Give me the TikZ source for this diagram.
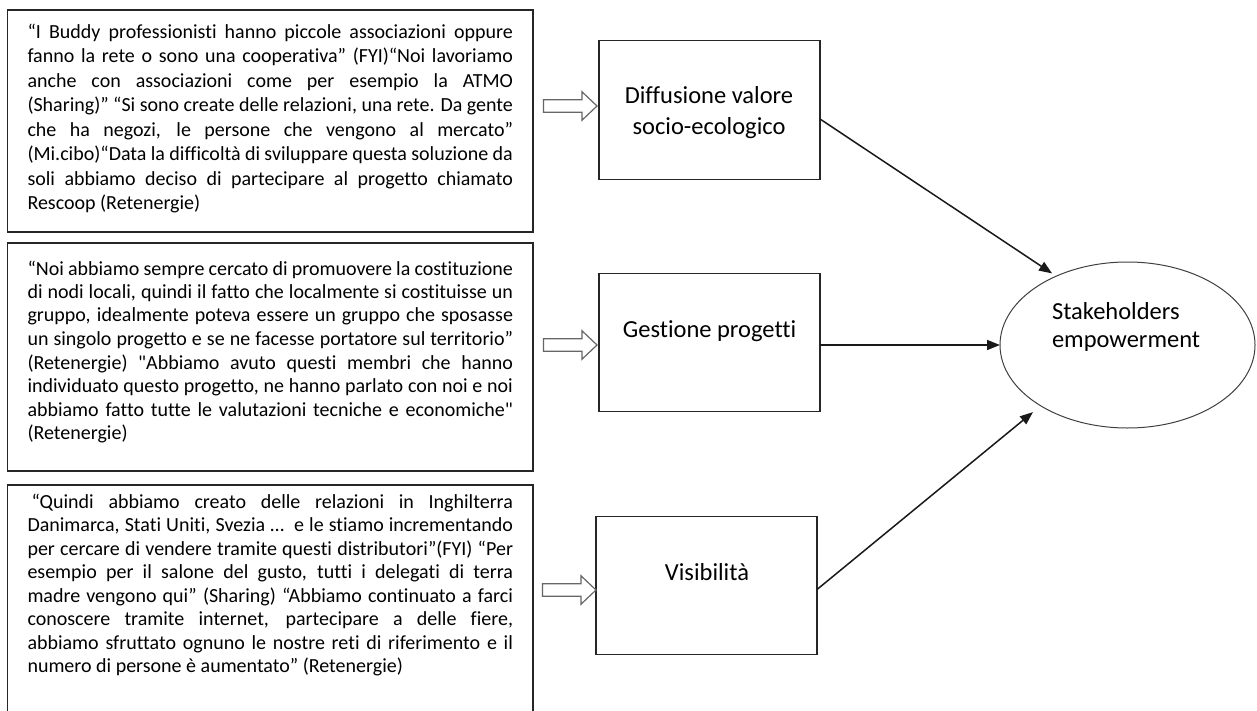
\documentclass[tikz,border=0pt]{standalone}
\usepackage{fontspec}
\setmainfont{Carlito}[Ligatures={TeXOff,CommonOff}]
\usetikzlibrary{arrows.meta,shapes.geometric,calc}

% one justified line of a quotation, and the last (ragged) line
\newcommand\jline[1]{\hbox to 485.5pt{#1}}
\newcommand\lastline[1]{\hbox{#1}}
% a block of quotation lines whose first baseline is the node's base
\newcommand\quoteblock[2]{\vtop{\fontsize{20pt}{#1}\selectfont\baselineskip=#1 #2}}
% two centred lines
\newcommand\twolines[3]{\vtop{\fontsize{24.5pt}{#3}\selectfont\baselineskip=#3\halign{\hfil##\hfil\cr #1\cr #2\cr}}}

\begin{document}
\begin{tikzpicture}[x=1pt,y=-1pt,
  every node/.style={inner sep=0pt,outer sep=0pt},
  quotebox/.style={draw=black!85,line width=1.3pt,rectangle,anchor=north west,minimum width=525.4pt},
  quotetext/.style={anchor=base west,text=black},
  concept/.style={draw=black!85,line width=1.3pt,rectangle,minimum width=221pt,minimum height=138.5pt},
  ctext/.style={anchor=base,text=black,font=\fontsize{24.5pt}{30pt}\selectfont},
  target/.style={draw=black!75,line width=1pt,ellipse,minimum width=255pt,minimum height=166pt},
  conn/.style={draw=black!90,line width=1.5pt,-{Triangle[length=13pt,width=10pt]}},
  blockarrow/.style={draw=black!60,line width=1.2pt,fill=white,line join=miter}]

\useasboundingbox (0,0) rectangle (1257,711);
\clip (0,0) rectangle (1257,711);
\fill[white] (0,0) rectangle (1257,711);

% quotation boxes
\node[quotebox,minimum height=222pt] (q1) at (7.6,10) {};
\node[quotebox,minimum height=228pt] (q2) at (7.6,243) {};
\node[quotebox,minimum height=245pt] (q3) at (7.6,485) {};

\node[quotetext] (q1txt) at (27.5,38.5) {\quoteblock{24.5pt}{%
\jline{“I Buddy professionisti hanno piccole associazioni oppure}
\jline{fanno la rete o sono una cooperativa” (FYI)“Noi lavoriamo}
\jline{anche con associazioni come per esempio la ATMO}
\jline{(Sharing)” “Si sono create delle relazioni, una rete. Da gente}
\jline{che ha negozi, le persone che vengono al mercato”}
\jline{(Mi.cibo)“Data la difficoltà di sviluppare questa soluzione da}
\jline{soli abbiamo deciso di partecipare al progetto chiamato}
\lastline{Rescoop (Retenergie)}}};

\node[quotetext] (q2txt) at (27.5,275) {\quoteblock{23.5pt}{%
\jline{“Noi abbiamo sempre cercato di promuovere la costituzione}
\jline{di nodi locali, quindi il fatto che localmente si costituisse un}
\jline{gruppo, idealmente poteva essere un gruppo che sposasse}
\jline{un singolo progetto e se ne facesse portatore sul territorio”}
\jline{(Retenergie) "Abbiamo avuto questi membri che hanno}
\jline{individuato questo progetto, ne hanno parlato con noi e noi}
\jline{abbiamo fatto tutte le valutazioni tecniche e economiche"}
\lastline{(Retenergie)}}};

\node[quotetext] (q3txt) at (27.5,508) {\quoteblock{23.5pt}{%
\jline{\hspace{4pt}“Quindi abbiamo creato delle relazioni in Inghilterra}
\jline{Danimarca, Stati Uniti, Svezia …\ \ e le stiamo incrementando}
\jline{per cercare di vendere tramite questi distributori”(FYI) “Per}
\jline{esempio per il salone del gusto, tutti i delegati di terra}
\jline{madre vengono qui” (Sharing) “Abbiamo continuato a farci}
\jline{conoscere tramite internet, partecipare a delle fiere,}
\jline{abbiamo sfruttato ognuno le nostre reti di riferimento e il}
\lastline{numero di persone è aumentato” (Retenergie)}}};

% concept boxes
\node[concept] (d1) at (709.5,110) {};
\node[concept] (d2) at (709.5,342.5) {};
\node[concept] (d3) at (706.5,585.5) {};

\node[anchor=base,text=black] (d1txt) at (709,103.5) {\twolines{Diffusione valore}{socio-ecologico}{31pt}};
\node[ctext] (d2txt) at (709.5,337) {Gestione progetti};
\node[ctext] (d3txt) at (707,580.5) {Visibilità};

% outcome
\node[target] (st) at (1127.5,345) {};
\node[anchor=base west,text=black] (sttxt) at (1052,319) {\vtop{\fontsize{24.5pt}{28pt}\selectfont\baselineskip=28pt\hbox{Stakeholders}\hbox{empowerment}}};

% block arrows from the quotations to the concepts
\coordinate (b1) at ([xshift=-2pt,yshift=4pt]d1.west);
\coordinate (b2) at ([xshift=-2pt,yshift=-2.5pt]d2.west);
\coordinate (b3) at ([yshift=-4.5pt]d3.west);
\foreach \b in {b1,b2,b3}{
  \draw[blockarrow] (\b) -- ++(-15,-14.2) -- ++(0,8) -- ++(-38.5,0) -- ++(0,12.4)
    -- ++(38.5,0) -- ++(0,8) -- cycle;
}

% connectors to the outcome
\draw[conn,shorten >=5pt] ([yshift=-9pt]d1.east) -- (st.136);
\draw[conn] (d2.east |- st.west) -- (st.west);
\draw[conn,shorten >=10pt] ([yshift=-4pt]d3.east) -- (st.215);
\end{tikzpicture}
\end{document}
